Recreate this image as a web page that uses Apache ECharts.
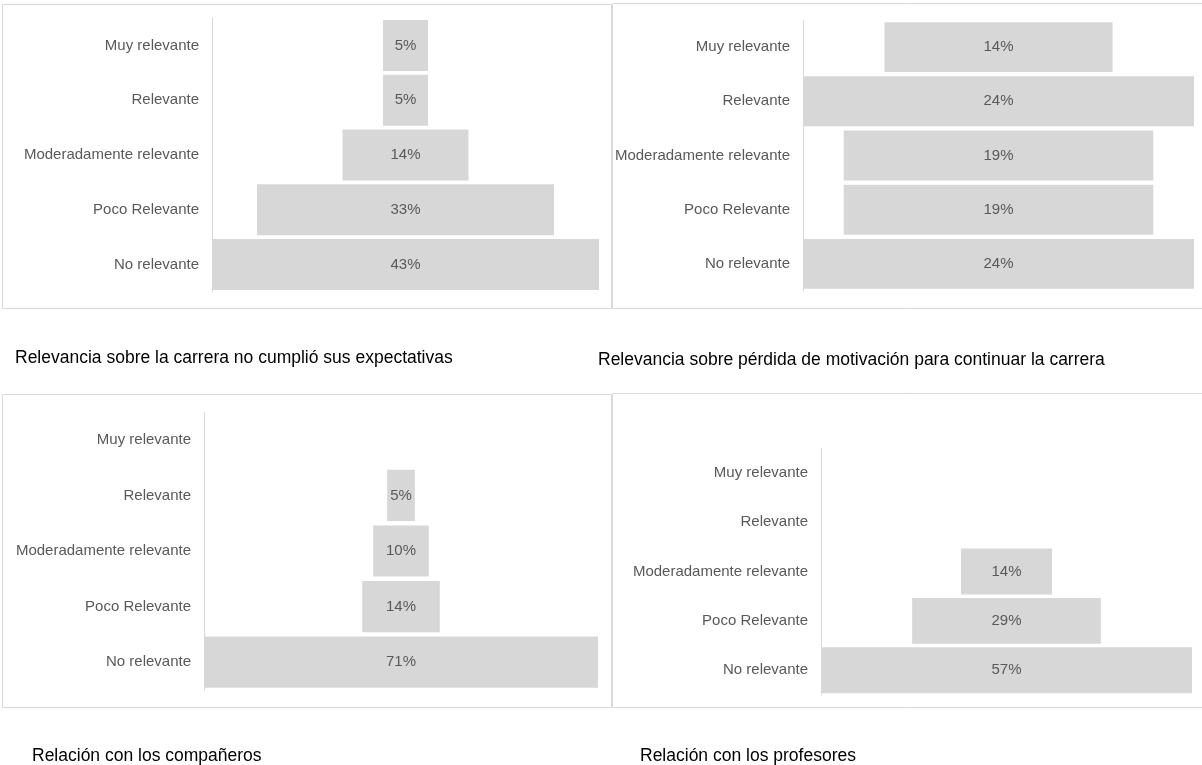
<!DOCTYPE html>
<html>
<head>
<meta charset="utf-8">
<script src="https://cdn.jsdelivr.net/npm/echarts@6/dist/echarts.min.js"></script>
<style>
html,body{margin:0;padding:0;background:#fff;}
#chart{width:1202px;height:765px;}
</style>
</head>
<body>
<div id="chart"></div>
<script>
// categorias (de arriba hacia abajo)
var categorias = ['Muy relevante', 'Relevante', 'Moderadamente relevante', 'Poco Relevante', 'No relevante'];

// porcentajes de cada grafico
var expectativas = [5, 5, 14, 33, 43];
var motivacion = [14, 24, 19, 19, 24];
var companeros = [0, 5, 10, 14, 71];
var profesores = [0, 0, 14, 29, 57];

var titulos = [
	'Relevancia sobre la carrera no cumplió sus expectativas',
	'Relevancia sobre pérdida de motivación para continuar la carrera',
	'Relación con los compañeros',
	'Relación con los profesores'
];

var fuente = '"Liberation Sans Narrow","Liberation Sans",sans-serif';
var gris = '#d7d7d7';

// posicion de cada panel
var paneles = [
	{datos: expectativas, grid: {left: 212, top: 18, width: 387, height: 274}, gap: '7%', caja: [2, 4, 609, 304], tit: [10, 344]},
	{datos: motivacion, grid: {left: 803, top: 20, width: 391, height: 271}, gap: '8%', caja: [612, 3, 592, 305], tit: [593, 346]},
	{datos: companeros, grid: {left: 204, top: 412, width: 394, height: 278}, gap: '8%', caja: [2, 394, 609, 313], tit: [27, 742]},
	{datos: profesores, grid: {left: 821, top: 448, width: 371, height: 247}, gap: '7%', caja: [612, 393, 592, 314], tit: [635, 742]}
];

var grids = [], xAxes = [], yAxes = [], series = [], titles = [], graficos = [];

for (var i = 0; i < paneles.length; i++) {
	var p = paneles[i];
	var max = Math.max.apply(null, p.datos);
	// relleno invisible para centrar la barra
	var relleno = [];
	for (var a = 0; a < p.datos.length; a++) {
		relleno.push((max - p.datos[a]) / 2);
	}
	grids.push({left: p.grid.left, top: p.grid.top, width: p.grid.width, height: p.grid.height, containLabel: false, outerBoundsMode: 'none'});
	xAxes.push({type: 'value', gridIndex: i, min: 0, max: max, show: false});
	yAxes.push({
		type: 'category', gridIndex: i, data: categorias, inverse: true,
		axisLine: {show: true, lineStyle: {color: '#d9d9d9', width: 1}},
		axisTick: {show: false},
		axisLabel: {color: '#595959', fontFamily: fuente, fontSize: 15, margin: 13}
	});
	series.push({
		type: 'bar', xAxisIndex: i, yAxisIndex: i, stack: 's' + i, data: relleno,
		itemStyle: {color: 'transparent'}, barCategoryGap: p.gap, silent: true
	});
	series.push({
		type: 'bar', xAxisIndex: i, yAxisIndex: i, stack: 's' + i, data: p.datos,
		itemStyle: {color: gris}, barCategoryGap: p.gap,
		label: {
			show: true, position: 'inside', color: '#595959', fontFamily: fuente, fontSize: 15,
			formatter: function(o){ return o.value ? o.value + '%' : ''; }
		}
	});
	titles.push({
		text: titulos[i], left: p.tit[0], top: p.tit[1],
		textStyle: {color: '#000', fontFamily: '"Liberation Sans",sans-serif', fontSize: 17.5, fontWeight: 'normal'}
	});
	graficos.push({
		type: 'rect', shape: {x: p.caja[0] + 0.5, y: p.caja[1] + 0.5, width: p.caja[2], height: p.caja[3]},
		style: {fill: null, stroke: '#d9d9d9', lineWidth: 1}, silent: true
	});
}

var chart = echarts.init(document.getElementById('chart'));
var option = {
	animation: false,
	title: titles,
	grid: grids,
	xAxis: xAxes,
	yAxis: yAxes,
	series: series,
	graphic: graficos
};
chart.setOption(option);
</script>
</body>
</html>
